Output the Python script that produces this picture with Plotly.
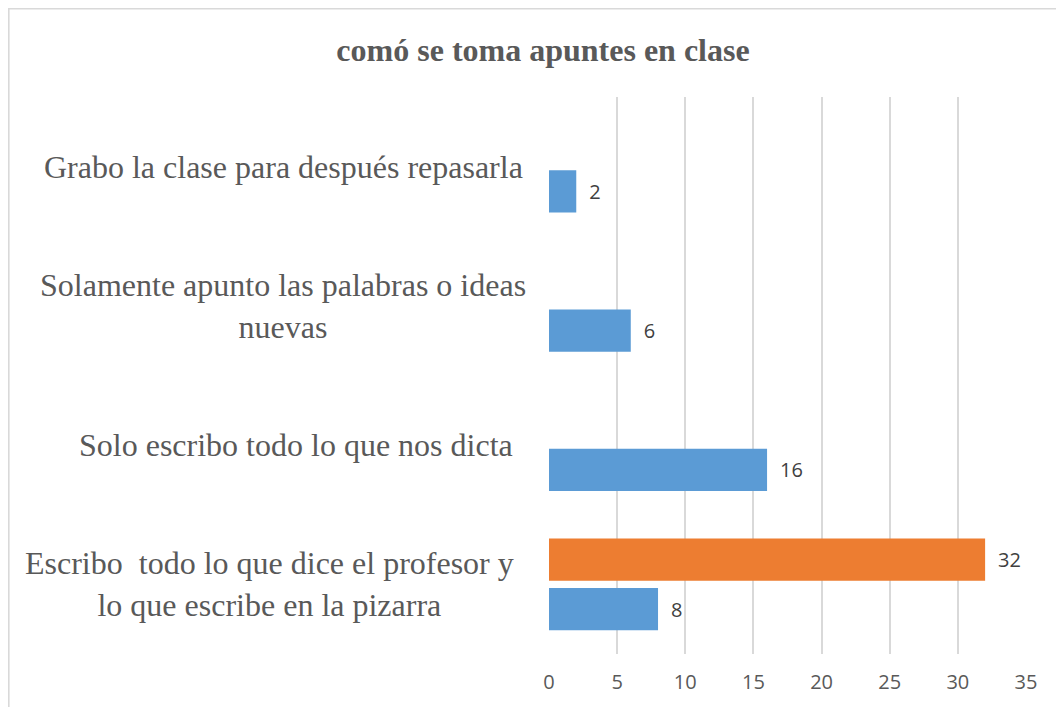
import plotly.graph_objects as go

categories = [
    "Escribo&nbsp; todo lo que dice el profesor y<br>lo que escribe en la pizarra",
    "Solo escribo todo lo que nos dicta",
    "Solamente apunto las palabras o ideas<br>nuevas",
    "Grabo la clase para después repasarla",
]
cat_ids = ["c1", "c2", "c3", "c4"]
serie1 = [8, 16, 6, 2]
serie2 = [32, None, None, None]
x_ticks = [0, 5, 10, 15, 20, 25, 30, 35]
title_text = "comó se toma apuntes en clase"

# the page body adds an 8px offset; figure coords = page coords - 8
W, H = 1064, 707
L, R, T, B = 541, 46, 89, 61
plot_w = W - L - R
plot_h = H - T - B
label_xshift = [-14, 13, 0, 0]

fig = go.Figure()
fig.add_trace(go.Bar(
    y=cat_ids, x=serie1, orientation="h", name="Serie 1",
    marker=dict(color="#5B9BD5", line=dict(width=0)),
    text=serie1, texttemplate="\u2002%{x}", textposition="outside",
    textfont=dict(family="Open Sans", size=20, color="#404040"),
    cliponaxis=False, constraintext="none",
))
fig.add_trace(go.Bar(
    y=cat_ids, x=serie2, orientation="h", name="Serie 2",
    marker=dict(color="#ED7D31", line=dict(width=0)),
    text=serie2, texttemplate="\u2002%{x}", textposition="outside",
    textfont=dict(family="Open Sans", size=20, color="#404040"),
    cliponaxis=False, constraintext="none",
))

label_x = (275 - L) / plot_w
for cid, lab, xs in zip(cat_ids, categories, label_xshift):
    fig.add_annotation(
        x=label_x, xref="paper", y=cid, yref="y", text=lab, showarrow=False,
        xanchor="center", yanchor="middle", align="center", xshift=xs,
        font=dict(family="Liberation Serif", size=32, color="#595959"),
    )

# outer chart border (top-left corner at the figure origin)
fig.add_shape(
    type="rect", xref="paper", yref="paper",
    x0=(0.8 - L) / plot_w, x1=(W + 20 - L) / plot_w,
    y0=-(B + 20) / plot_h, y1=1 + (T - 0.8) / plot_h,
    line=dict(color="#D9D9D9", width=1.6), fillcolor="rgba(0,0,0,0)", layer="below",
)

fig.update_layout(
    width=W, height=H,
    margin=dict(l=L, r=R, t=T, b=B),
    paper_bgcolor="white", plot_bgcolor="white",
    barmode="group", bargap=0.289, bargroupgap=0.142,
    showlegend=False,
    title=dict(
        text=title_text, xref="container", yref="container",
        x=535 / W, y=1 - 42 / H, xanchor="center", yanchor="middle",
        font=dict(family="Liberation Serif", size=32, color="#595959", weight="bold"),
    ),
    xaxis=dict(
        range=[0, 35], tickvals=x_ticks, showgrid=True, gridcolor="#D9D9D9", gridwidth=1.5,
        zeroline=False, showline=False, ticks="",
        tickfont=dict(family="Open Sans", size=20, color="#595959"),
        ticklabelstandoff=14,
    ),
    yaxis=dict(
        categoryorder="array", categoryarray=cat_ids, range=[-0.5, 3.5],
        showticklabels=False, showgrid=False, zeroline=False, showline=False, ticks="",
    ),
)

fig.write_html("out.html")
